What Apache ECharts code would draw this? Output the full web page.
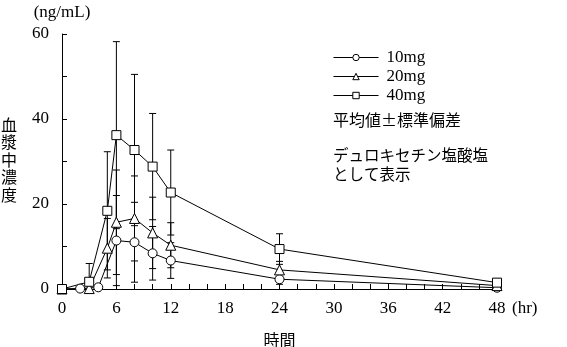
<!DOCTYPE html>
<html><head><meta charset="utf-8">
<script src="https://cdn.jsdelivr.net/npm/echarts@6/dist/echarts.min.js"></script>
<style>html,body{margin:0;padding:0;background:#fff}#c{width:567px;height:347px}</style>
</head><body><div id="c"></div>
<script>
// Time points (hr)
const times10 = [0, 2, 4, 6, 8, 10, 12, 24, 48];
const times20 = [0, 3, 5, 6, 8, 10, 12, 24, 48];
const times40 = [0, 3, 5, 6, 8, 10, 12, 24, 48];
// Mean plasma concentration (ng/mL)
const mean10 = [0, 0.1, 0.4, 11.4, 11.0, 8.4, 6.7, 2.3, 0.3];
const mean20 = [0, 0.1, 9.6, 15.7, 16.6, 13.2, 10.3, 4.5, 0.8];
const mean40 = [0, 1.7, 18.4, 36.2, 32.7, 28.8, 22.7, 9.4, 1.5];
// Standard deviations
const sd10 = [0, 0, 0, 10.6, 9.4, 6.3, 4.2, 1.2, 0.3];
const sd20 = [0, 0, 7.0, 12.3, 10.0, 8.4, 5.3, 2.0, 0.5];
const sd40 = [0, 4.3, 13.9, 22.0, 17.8, 12.5, 10.0, 3.6, 0.8];
const seriesNames = ['10mg', '20mg', '40mg'];
const yTicks = [0, 20, 40, 60];
const xTicks = [0, 6, 12, 18, 24, 30, 36, 42, 48];

const SERIF = '"Liberation Serif", "Times New Roman", serif';
const CJK = '"Noto Sans CJK JP", sans-serif';

function pts(t, m) { return t.map((x, i) => [x, m[i]]); }
function errs(t, m, s) { return t.map((x, i) => [x, Math.max(0, m[i] - s[i]), m[i] + s[i]]); }

function errItem(params, api) {
  const x = api.value(0), lo = api.value(1), hi = api.value(2);
  if (hi - lo <= 0.01) return null;
  const p1 = api.coord([x, lo]), p2 = api.coord([x, hi]);
  const w = 3.5;
  const st = { stroke: '#000', lineWidth: 1 };
  const children = [
    { type: 'line', shape: { x1: p1[0], y1: p1[1], x2: p2[0], y2: p2[1] }, style: st },
    { type: 'line', shape: { x1: p2[0] - w, y1: p2[1], x2: p2[0] + w, y2: p2[1] }, style: st }
  ];
  if (lo > 0) children.push({ type: 'line', shape: { x1: p1[0] - w, y1: p1[1], x2: p1[0] + w, y2: p1[1] }, style: st });
  return { type: 'group', children };
}

const symbols = ['circle', 'triangle', 'rect'];
const sizes = [9, 10, 9];
const allPts = [pts(times10, mean10), pts(times20, mean20), pts(times40, mean40)];
const allErr = [errs(times10, mean10, sd10), errs(times20, mean20, sd20), errs(times40, mean40, sd40)];

const series = [];
for (let i = 0; i < 3; i++) {
  series.push({
    name: 'err' + i, type: 'custom', renderItem: errItem, data: allErr[i], z: 1,
    encode: { x: 0, y: [1, 2] }, silent: true
  });
}
for (let i = 0; i < 3; i++) {
  series.push({
    name: seriesNames[i], type: 'line', data: allPts[i], z: 3,
    symbol: symbols[i], symbolSize: sizes[i], showSymbol: true,
    lineStyle: { color: '#000', width: 1 },
    itemStyle: { color: '#fff', borderColor: '#000', borderWidth: 1 },
    animation: false
  });
}

const chart = echarts.init(document.getElementById('c'), null, { renderer: 'canvas' });
chart.setOption({
  animation: false,
  backgroundColor: '#fff',
  grid: { left: 62, right: 70, top: 34, bottom: 58, containLabel: false, outerBoundsMode: 'none' },
  xAxis: {
    type: 'value', min: 0, max: 48, interval: 2,
    name: '時間', nameLocation: 'middle', nameGap: 43,
    nameTextStyle: { fontFamily: CJK, fontSize: 16, color: '#000' },
    axisLine: { lineStyle: { color: '#000', width: 1 } },
    axisTick: { inside: true, length: 5, lineStyle: { color: '#000' } },
    axisLabel: {
      margin: 11, fontFamily: SERIF, fontSize: 17, color: '#000',
      formatter: v => xTicks.includes(v) ? String(v) : ''
    },
    splitLine: { show: false }
  },
  yAxis: {
    type: 'value', min: 0, max: 60, interval: 10,
    name: '(ng/mL)', nameLocation: 'end', nameGap: 13,
    nameTextStyle: { fontFamily: SERIF, fontSize: 17, color: '#000', align: 'center' },
    axisLine: { show: true, lineStyle: { color: '#000', width: 1 } },
    axisTick: { show: true, inside: true, length: 5, lineStyle: { color: '#000' } },
    axisLabel: {
      margin: 13, fontFamily: SERIF, fontSize: 17, color: '#000',
      formatter: v => yTicks.includes(v) ? String(v) : ''
    },
    splitLine: { show: false }
  },
  legend: {
    data: seriesNames, orient: 'vertical', left: 333, top: 49, padding: 0,
    itemWidth: 45, itemHeight: 8, itemGap: 2,
    lineStyle: { width: 1 },
    itemStyle: { borderWidth: 1 },
    textStyle: { fontFamily: SERIF, fontSize: 17, color: '#000', padding: [0, 0, 0, 3] },
    selectedMode: false
  },
  graphic: [
    { type: 'text', left: 1, top: 116, style: { text: '血\n漿\n中\n濃\n度', fontFamily: CJK, fontSize: 16, lineHeight: 17.5, fill: '#000' } },
    { type: 'text', left: 512, top: 300, style: { text: '(hr)', fontFamily: SERIF, fontSize: 17, fill: '#000' } },
    { type: 'text', left: 333, top: 111, style: { text: '平均値±標準偏差', fontFamily: CJK, fontSize: 16, lineHeight: 18, fill: '#000' } },
    { type: 'text', left: 333, top: 146, style: { text: 'デュロキセチン塩酸塩\nとして表示', fontFamily: CJK, fontSize: 15.5, lineHeight: 19, fill: '#000' } }
  ],
  series
});
</script></body></html>
